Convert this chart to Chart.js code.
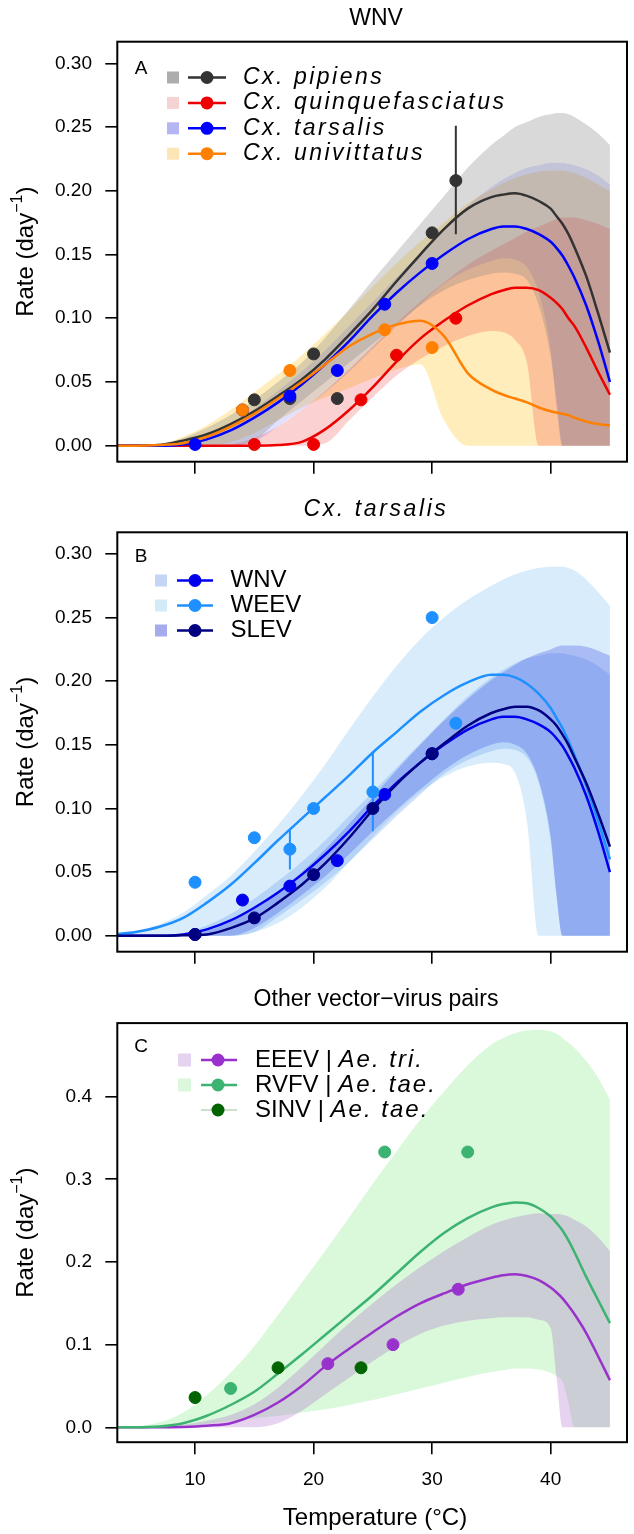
<!DOCTYPE html>
<html>
<head>
<meta charset="utf-8">
<script src="https://cdn.jsdelivr.net/npm/chart.js@4"></script>
<style>
  body { margin: 0; background: #fff; }
  #wrap { position: relative; width: 634px; height: 1534px; }
  canvas { position: absolute; left: 0; }
</style>
</head>
<body>
<div id="wrap">
  <canvas id="panel-a" width="634" height="490" style="top:0"></canvas>
  <canvas id="panel-b" width="634" height="490" style="top:490px"></canvas>
  <canvas id="panel-c" width="634" height="554" style="top:980px"></canvas>
</div>
<script>
// temperatures at which the fitted curves / credible bands were read
const temps = [3, 5, 7, 9, 11, 13, 15, 17, 19, 21, 23, 25, 27, 29, 31, 33, 35, 36, 37, 38, 39, 40, 40.5, 41, 41.5, 42, 43, 44, 45];

const xTicks = [10, 20, 30, 40];
const xTickLabels = ['10', '20', '30', '40'];
const yTicksAB = [0, 0.05, 0.1, 0.15, 0.2, 0.25, 0.3];
const yLabelsAB = ['0.00', '0.05', '0.10', '0.15', '0.20', '0.25', '0.30'];
const yTicksC = [0, 0.1, 0.2, 0.3, 0.4];
const yLabelsC = ['0.0', '0.1', '0.2', '0.3', '0.4'];

// Panel A - WNV
const pipMean = [0, 0, 0.0005, 0.004, 0.009, 0.017, 0.027, 0.039, 0.052, 0.068, 0.087, 0.107, 0.129, 0.150, 0.170, 0.186, 0.195, 0.197, 0.198, 0.196, 0.192, 0.186, 0.180, 0.174, 0.166, 0.156, 0.133, 0.104, 0.073];
const pipHi = [0, 0, 0.001, 0.006, 0.014, 0.024, 0.036, 0.05, 0.065, 0.085, 0.107, 0.13, 0.152, 0.174, 0.196, 0.218, 0.236, 0.243, 0.25, 0.254, 0.258, 0.26, 0.261, 0.261, 0.26, 0.258, 0.252, 0.245, 0.236];
const pipLo = [0, 0, 0, 0, 0, 0, 0.004, 0.02, 0.035, 0.05, 0.065, 0.08, 0.095, 0.11, 0.122, 0.13, 0.135, 0.136, 0.135, 0.13, 0.11, 0.07, 0.035, 0, 0, 0, 0, 0, 0];
const quiMean = [0, 0, 0, 0, 0, 0, 0, 0.0005, 0.003, 0.013, 0.028, 0.046, 0.066, 0.084, 0.098, 0.110, 0.119, 0.122, 0.124, 0.124, 0.122, 0.116, 0.112, 0.107, 0.1, 0.094, 0.077, 0.058, 0.040];
const quiHi = [0, 0, 0, 0, 0, 0.001, 0.006, 0.015, 0.028, 0.043, 0.06, 0.078, 0.096, 0.113, 0.128, 0.142, 0.153, 0.158, 0.163, 0.168, 0.172, 0.176, 0.178, 0.179, 0.179, 0.179, 0.177, 0.174, 0.17];
const quiLo = [0, 0, 0, 0, 0, 0, 0, 0, 0, 0.002, 0.02, 0.038, 0.055, 0.068, 0.078, 0.086, 0.09, 0.089, 0.083, 0.065, 0, 0, 0, 0, 0, 0, 0, 0, 0];
const tarMean = [0, 0, 0, 0.001, 0.005, 0.012, 0.022, 0.034, 0.048, 0.064, 0.082, 0.102, 0.12, 0.136, 0.150, 0.162, 0.170, 0.172, 0.172, 0.170, 0.166, 0.160, 0.155, 0.149, 0.141, 0.132, 0.110, 0.082, 0.050];
const tarHi = [0, 0, 0, 0.002, 0.008, 0.017, 0.029, 0.043, 0.058, 0.075, 0.094, 0.113, 0.132, 0.151, 0.17, 0.188, 0.203, 0.209, 0.214, 0.218, 0.22, 0.222, 0.222, 0.222, 0.221, 0.22, 0.217, 0.212, 0.205];
const tarLo = [0, 0, 0, 0, 0, 0, 0.003, 0.015, 0.028, 0.042, 0.058, 0.076, 0.094, 0.111, 0.127, 0.138, 0.145, 0.147, 0.146, 0.14, 0.12, 0.075, 0.03, 0, 0, 0, 0, 0, 0];
const uniMean = [0, 0, 0.0005, 0.002, 0.007, 0.015, 0.025, 0.037, 0.05, 0.064, 0.078, 0.088, 0.095, 0.098, 0.086, 0.057, 0.044, 0.040, 0.037, 0.034, 0.030, 0.027, 0.026, 0.025, 0.024, 0.022, 0.019, 0.017, 0.016];
const uniHi = [0, 0, 0.001, 0.007, 0.016, 0.028, 0.042, 0.056, 0.071, 0.088, 0.106, 0.125, 0.143, 0.16, 0.175, 0.19, 0.201, 0.206, 0.21, 0.213, 0.215, 0.216, 0.216, 0.216, 0.215, 0.214, 0.21, 0.205, 0.2];
const uniLo = [0, 0, 0, 0, 0, 0.003, 0.01, 0.02, 0.03, 0.038, 0.045, 0.053, 0.06, 0.064, 0.02, 0, 0, 0, 0, 0, 0, 0, 0, 0, 0, 0, 0, 0, 0];

const pipPtT = [15, 18, 20, 22, 30, 32];
const pipPtV = [0.036, 0.037, 0.072, 0.037, 0.167, 0.208];
const quiPtT = [15, 20, 24, 27, 32];
const quiPtV = [0.001, 0.001, 0.036, 0.071, 0.100];
const tarPtT = [10, 14, 18, 22, 26, 30];
const tarPtV = [0.001, 0.028, 0.039, 0.059, 0.111, 0.143];
const uniPtT = [14, 18, 26, 30];
const uniPtV = [0.028, 0.059, 0.091, 0.077];
const pipErr = [32, 0.166, 0.251];

// Panel B - Cx. tarsalis (WNV uses the tarsalis series above)
const weeMean = [0.001, 0.003, 0.007, 0.014, 0.026, 0.04, 0.057, 0.075, 0.092, 0.109, 0.126, 0.144, 0.16, 0.176, 0.189, 0.199, 0.205, 0.205, 0.203, 0.198, 0.19, 0.179, 0.171, 0.163, 0.153, 0.142, 0.118, 0.09, 0.06];
const weeHi = [0.001, 0.004, 0.009, 0.018, 0.032, 0.047, 0.066, 0.087, 0.11, 0.135, 0.162, 0.188, 0.212, 0.233, 0.25, 0.264, 0.275, 0.28, 0.284, 0.287, 0.289, 0.29, 0.29, 0.29, 0.289, 0.287, 0.28, 0.27, 0.259];
const weeLo = [0, 0, 0, 0, 0, 0, 0.003, 0.01, 0.022, 0.038, 0.058, 0.078, 0.097, 0.113, 0.125, 0.133, 0.136, 0.135, 0.128, 0.09, 0, 0, 0, 0, 0, 0, 0, 0, 0];
const slevMean = [0, 0, 0, 0.0003, 0.001, 0.006, 0.0136, 0.026, 0.04, 0.057, 0.077, 0.099, 0.119, 0.136, 0.151, 0.165, 0.175, 0.178, 0.18, 0.18, 0.177, 0.17, 0.165, 0.158, 0.15, 0.14, 0.12, 0.096, 0.07];
const slevHi = [0, 0, 0, 0.001, 0.004, 0.011, 0.021, 0.034, 0.05, 0.068, 0.088, 0.109, 0.13, 0.15, 0.169, 0.186, 0.201, 0.207, 0.213, 0.218, 0.222, 0.225, 0.227, 0.228, 0.228, 0.228, 0.227, 0.224, 0.22];
const slevLo = [0, 0, 0, 0, 0, 0, 0.006, 0.018, 0.032, 0.047, 0.064, 0.082, 0.099, 0.115, 0.13, 0.142, 0.15, 0.152, 0.15, 0.143, 0.122, 0.078, 0.032, 0, 0, 0, 0, 0, 0];

const weePtT = [10, 15, 18, 20, 25, 30, 32];
const weePtV = [0.042, 0.077, 0.068, 0.100, 0.113, 0.250, 0.167];
const slevPtT = [10, 15, 20, 25, 30];
const slevPtV = [0.001, 0.014, 0.048, 0.100, 0.143];
const weeErr1 = [18, 0.052, 0.083];
const weeErr2 = [25, 0.082, 0.144];

// Panel C - other vector-virus pairs
const eeeMean = [0, 0, 0, 0.0005, 0.002, 0.005, 0.015, 0.03, 0.05, 0.074, 0.095, 0.115, 0.134, 0.15, 0.162, 0.173, 0.181, 0.184, 0.185, 0.183, 0.178, 0.169, 0.163, 0.156, 0.147, 0.137, 0.114, 0.086, 0.057];
const eeeHi = [0, 0, 0.0005, 0.003, 0.008, 0.015, 0.028, 0.048, 0.073, 0.1, 0.126, 0.15, 0.173, 0.194, 0.213, 0.23, 0.245, 0.25, 0.254, 0.257, 0.259, 0.258, 0.258, 0.257, 0.255, 0.251, 0.243, 0.23, 0.213];
const eeeLo = [0, 0, 0, 0, 0, 0, 0, 0.005, 0.02, 0.04, 0.06, 0.08, 0.098, 0.113, 0.123, 0.129, 0.132, 0.133, 0.133, 0.133, 0.13, 0.12, 0.06, 0, 0, 0, 0, 0, 0];
const rvfMean = [0, 0, 0.001, 0.005, 0.014, 0.027, 0.043, 0.065, 0.088, 0.112, 0.136, 0.16, 0.186, 0.212, 0.235, 0.253, 0.266, 0.27, 0.272, 0.271, 0.265, 0.255, 0.247, 0.238, 0.226, 0.212, 0.182, 0.154, 0.126];
const rvfHi = [0, 0.001, 0.006, 0.018, 0.039, 0.066, 0.098, 0.136, 0.175, 0.214, 0.254, 0.295, 0.334, 0.372, 0.406, 0.438, 0.463, 0.471, 0.477, 0.48, 0.481, 0.479, 0.476, 0.471, 0.465, 0.459, 0.443, 0.423, 0.396];
const rvfLo = [0, 0, 0, 0.0005, 0.004, 0.008, 0.011, 0.014, 0.018, 0.022, 0.027, 0.033, 0.04, 0.047, 0.054, 0.061, 0.067, 0.069, 0.071, 0.071, 0.07, 0.066, 0.062, 0.055, 0.03, 0, 0, 0, 0];

const eeePtT = [21.2, 26.7, 32.2];
const eeePtV = [0.077, 0.100, 0.167];
const rvfPtT = [13, 26, 33];
const rvfPtV = [0.047, 0.333, 0.333];
const sinPtT = [10, 17, 24];
const sinPtV = [0.036, 0.072, 0.072];

const FONT = '"Liberation Sans", Arial, sans-serif';
const xMin = 3.44, xMax = 46.44;

const pts = (xs, ys) => xs.map((x, i) => ({ x, y: ys[i] }));

function band(hi, lo, color, order) {
    return [
        { data: pts(temps, hi), borderWidth: 0, borderColor: 'rgba(0,0,0,0)', pointRadius: 0, fill: '+1', backgroundColor: color, cubicInterpolationMode: 'monotone', order },
        { data: pts(temps, lo), borderWidth: 0, borderColor: 'rgba(0,0,0,0)', pointRadius: 0, fill: false, cubicInterpolationMode: 'monotone', order }
    ];
}
function curve(vals, color, order) {
    return { data: pts(temps, vals), borderColor: color, borderWidth: 2.5, pointRadius: 0, fill: false, cubicInterpolationMode: 'monotone', order };
}
function dots(xs, ys, color, order) {
    return { data: pts(xs, ys), showLine: false, pointRadius: 6, pointBackgroundColor: color, pointBorderColor: color, pointBorderWidth: 1, order };
}
function errBar(e, color, order) {
    return { data: [{ x: e[0], y: e[1] }, { x: e[0], y: e[2] }], borderColor: color, borderWidth: 2, pointRadius: 0, fill: false, order };
}

function drawLegend(ctx, leg) {
    leg.rows.forEach((row, i) => {
        const y = leg.y0 + i * leg.dy;
        if (row.swatch) {
            ctx.fillStyle = row.swatch;
            ctx.fillRect(leg.sx, y - leg.ss / 2, leg.ss, leg.ss);
        }
        ctx.strokeStyle = row.line || row.color;
        ctx.lineWidth = row.lw || 2.5;
        ctx.beginPath(); ctx.moveTo(leg.lx0, y); ctx.lineTo(leg.lx1, y); ctx.stroke();
        ctx.fillStyle = row.color;
        ctx.beginPath(); ctx.arc(leg.mx, y, 6.5, 0, 2 * Math.PI); ctx.fill();
        let x = leg.tx;
        ctx.fillStyle = '#000';
        ctx.textAlign = 'left';
        ctx.textBaseline = 'middle';
        row.text.forEach(([s, it]) => {
            ctx.font = `${it ? 'italic ' : ''}${leg.size}px ${FONT}`;
            ctx.letterSpacing = it ? leg.spacing + 'px' : '0px';
            ctx.fillText(s, x, y);
            x += ctx.measureText(s).width;
        });
        ctx.letterSpacing = '0px';
    });
}

function drawYLabel(ctx, cx, cy) {
    ctx.save();
    ctx.translate(cx, cy);
    ctx.rotate(-Math.PI / 2);
    ctx.fillStyle = '#000';
    ctx.textAlign = 'left';
    ctx.textBaseline = 'alphabetic';
    const big = `24px ${FONT}`, small = `16px ${FONT}`;
    ctx.font = big;
    const w1 = ctx.measureText('Rate (day').width, w3 = ctx.measureText(')').width;
    ctx.font = small;
    const w2 = ctx.measureText('\u22121').width;
    let x = -(w1 + w2 + w3) / 2;
    const base = 6;
    ctx.font = big; ctx.fillText('Rate (day', x, base); x += w1;
    ctx.font = small; ctx.fillText('\u22121', x, base - 11); x += w2;
    ctx.font = big; ctx.fillText(')', x, base);
    ctx.restore();
}

function decor(p) {
    return {
        id: 'decor',
        afterDraw(chart) {
            const ctx = chart.ctx, a = chart.chartArea;
            ctx.save();
            ctx.strokeStyle = '#000';
            ctx.lineWidth = 2;
            ctx.strokeRect(a.left, a.top, a.right - a.left, a.bottom - a.top);
            ctx.fillStyle = '#000';
            ctx.textAlign = 'center';
            ctx.textBaseline = 'middle';
            ctx.font = `${p.titleItalic ? 'italic ' : ''}23px ${FONT}`;
            ctx.letterSpacing = p.titleItalic ? '2.6px' : '0px';
            ctx.fillText(p.title, 376, p.titleY);
            ctx.letterSpacing = '0px';
            ctx.font = `19px ${FONT}`;
            ctx.fillText(p.letter, 141, p.letterY);
            drawYLabel(ctx, 27, (a.top + a.bottom) / 2);
            if (p.xTitle) {
                ctx.font = `24px ${FONT}`;
                ctx.textAlign = 'center';
                ctx.textBaseline = 'middle';
                ctx.fillText(p.xTitle, 375, p.xTitleY);
            }
            drawLegend(ctx, p.legend);
            ctx.restore();
        }
    };
}

const tickGrid = { drawOnChartArea: false, drawTicks: true, tickLength: 12, color: '#000', lineWidth: 1.6 };

function renderPanel(id, p) {
    new Chart(document.getElementById(id).getContext('2d'), {
        type: 'line',
        data: { datasets: p.datasets },
        options: {
            responsive: false,
            animation: false,
            devicePixelRatio: 1,
            layout: { padding: { top: p.top, right: 0.7, left: 0, bottom: 0 } },
            plugins: { legend: { display: false }, tooltip: { enabled: false } },
            scales: {
                x: {
                    type: 'linear', min: xMin, max: xMax,
                    afterFit: s => { s.height = p.xAxisH; },
                    afterBuildTicks: s => { s.ticks = xTicks.map(v => ({ value: v })); },
                    grid: tickGrid,
                    border: { display: false },
                    ticks: {
                        autoSkip: false, maxRotation: 0, padding: 14.4, color: '#000',
                        font: { family: FONT, size: 19 },
                        callback: (v, i) => p.xLabels ? xTickLabels[i] : ''
                    }
                },
                y: {
                    type: 'linear', min: p.yMin, max: p.yMax,
                    afterFit: s => { s.width = 117.3; },
                    afterBuildTicks: s => { s.ticks = p.yTicks.map(v => ({ value: v })); },
                    grid: tickGrid,
                    border: { display: false },
                    ticks: {
                        autoSkip: false, padding: 13.3, color: '#000',
                        font: { family: FONT, size: 19 },
                        callback: (v, i) => p.yLabels[i]
                    }
                }
            }
        },
        plugins: [decor(p)]
    });
}

// bands: yellow drawn first (bottom), grey last (top)
renderPanel('panel-a', {
    top: 41.7, xAxisH: 28.3, xLabels: false,
    yMin: -0.01255, yMax: 0.317, yTicks: yTicksAB, yLabels: yLabelsAB,
    title: 'WNV', titleY: 19, letter: 'A', letterY: 69,
    legend: {
        y0: 77.5, dy: 25.4, sx: 167, ss: 12, lx0: 188, lx1: 226, mx: 207, tx: 243, size: 23, spacing: 2.5,
        rows: [
            { swatch: '#adadad', color: '#333333', text: [['Cx. pipiens', true]] },
            { swatch: '#f5d3d3', color: '#ee0000', text: [['Cx. quinquefasciatus', true]] },
            { swatch: '#b5b5f2', color: '#0000ff', text: [['Cx. tarsalis', true]] },
            { swatch: '#fde6b3', color: '#ff8000', text: [['Cx. univittatus', true]] }
        ]
    },
    datasets: [
        ...band(pipHi, pipLo, 'rgba(128,128,128,0.3)', 31),
        ...band(quiHi, quiLo, 'rgba(238,0,0,0.18)', 32),
        ...band(tarHi, tarLo, 'rgba(0,0,255,0.12)', 33),
        ...band(uniHi, uniLo, 'rgba(255,200,50,0.33)', 34),
        curve(pipMean, '#333333', 24),
        curve(quiMean, '#ee0000', 23),
        curve(tarMean, '#0000ff', 22),
        curve(uniMean, '#ff8000', 21),
        errBar(pipErr, '#333333', 15),
        dots(pipPtT, pipPtV, '#333333', 14),
        dots(quiPtT, quiPtV, '#ee0000', 13),
        dots(tarPtT, tarPtV, '#0000ff', 12),
        dots(uniPtT, uniPtV, '#ff8000', 11)
    ]
});

renderPanel('panel-b', {
    top: 42.3, xAxisH: 28.3, xLabels: false,
    yMin: -0.01255, yMax: 0.317, yTicks: yTicksAB, yLabels: yLabelsAB,
    title: 'Cx. tarsalis', titleItalic: true, titleY: 20, letter: 'B', letterY: 67,
    legend: {
        y0: 90.5, dy: 25, sx: 155, ss: 12, lx0: 177, lx1: 213, mx: 195, tx: 230.5, size: 24, spacing: 0,
        rows: [
            { swatch: '#c5d5f5', color: '#0000ee', text: [['WNV', false]] },
            { swatch: '#d3eaf9', color: '#1e90ff', text: [['WEEV', false]] },
            { swatch: '#a4acee', color: '#000080', text: [['SLEV', false]] }
        ]
    },
    datasets: [
        ...band(tarHi, tarLo, 'rgba(100,149,237,0.3)', 34),
        ...band(weeHi, weeLo, 'rgba(100,180,240,0.25)', 33),
        ...band(slevHi, slevLo, 'rgba(75,90,230,0.33)', 32),
        curve(tarMean, '#0000ee', 24),
        curve(weeMean, '#1e90ff', 23),
        curve(slevMean, '#000080', 22),
        errBar(weeErr1, '#1e90ff', 15),
        errBar(weeErr2, '#1e90ff', 15),
        dots(tarPtT, tarPtV, '#0000ee', 14),
        dots(weePtT, weePtV, '#1e90ff', 13),
        dots(slevPtT, slevPtV, '#000080', 12)
    ]
});

renderPanel('panel-c', {
    top: 43.1, xAxisH: 91.8, xLabels: true,
    yMin: -0.018, yMax: 0.4889, yTicks: yTicksC, yLabels: yLabelsC,
    title: 'Other vector\u2212virus pairs', titleY: 19.5, letter: 'C', letterY: 67,
    xTitle: 'Temperature (\u00b0C)', xTitleY: 538,
    legend: {
        y0: 80, dy: 25, sx: 178, ss: 13, lx0: 201, lx1: 237, mx: 218, tx: 255, size: 24, spacing: 2,
        rows: [
            { swatch: '#e6d3f0', color: '#9932cc', text: [['EEEV | ', false], ['Ae. tri.', true]] },
            { swatch: '#dcf8dc', color: '#3cb371', text: [['RVFV | ', false], ['Ae. tae.', true]] },
            { color: '#006400', line: '#9dbf9d', lw: 1.2, text: [['SINV | ', false], ['Ae. tae.', true]] }
        ]
    },
    datasets: [
        ...band(eeeHi, eeeLo, 'rgba(155,80,195,0.25)', 33),
        ...band(rvfHi, rvfLo, 'rgba(120,230,120,0.27)', 34),
        curve(eeeMean, '#9932cc', 24),
        curve(rvfMean, '#3cb371', 23),
        dots(eeePtT, eeePtV, '#9932cc', 14),
        dots(rvfPtT, rvfPtV, '#3cb371', 13),
        dots(sinPtT, sinPtV, '#006400', 12)
    ]
});
</script>
</body>
</html>
